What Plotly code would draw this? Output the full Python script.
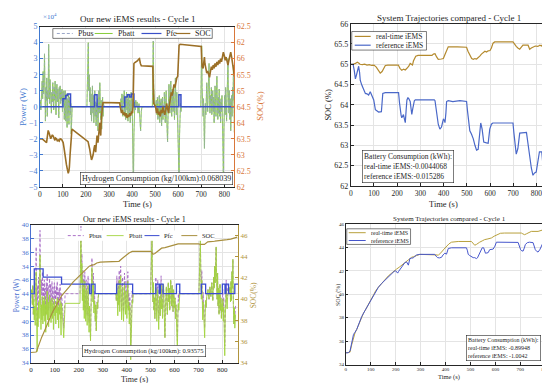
import plotly.graph_objects as go

# ---------------- Top-left: "Our new iEMS results - Cycle 1" (power in 1e4 W) ----------------
pbatt_top = [
 (0,0),(2,0.4),(4,-0.2),(6,1.0),(8,0.3),(10,1.6),(12,0.5),(14,2.2),(16,0.8),(18,1.4),(20,3.3),(22,0.6),
 (24,-0.9),(26,1.2),(28,0.4),(30,1.8),(32,-0.6),(34,1.0),(36,0.5),(38,3.9),(40,1.2),(42,0.2),(44,1.7),
 (46,0.6),(48,1.1),(50,-0.4),(52,0.9),(54,0.3),(56,1.5),(58,0.7),(60,-0.2),(62,1.2),(64,0.4),(66,1.6),
 (68,0.8),(70,-0.5),(72,1.0),(74,1.4),(76,0.3),(78,1.1),(80,0.6),(82,-0.7),(84,1.2),(86,0.5),(88,1.3),
 (90,0.2),(92,1.0),(94,0.4),(96,1.1),(98,-0.3),(100,0.9),(102,0.3),(104,1.0),(106,-0.8),(108,0.6),
 (110,1.0),(112,-0.9),(114,0.4),(116,0.8),(118,-1.3),(120,0.5),(122,-0.4),(124,0.8),(126,-1.1),(128,0.3),
 (130,0.6),(132,-0.5),(134,0.2),(136,-1.7),(138,-0.3),(140,0),
 (204,0),(206,1.2),(208,2.6),(210,4.0),(212,1.0),(214,2.0),(216,0.3),(218,1.2),(220,-0.5),(222,0.8),
 (224,-0.9),(226,0.5),(228,1.3),(230,-0.4),(232,0.7),(234,-1.0),(236,0.4),(238,1.0),(240,-0.6),(242,0.3),
 (244,-1.2),(246,0.2),(248,-0.7),(250,0.5),(252,-1.5),(254,0.3),(256,1.0),(258,-0.4),(260,1.5),(262,0.2),
 (264,-0.8),(266,0.4),(268,-1.4),(270,-0.3),(272,0.6),(274,-0.6),(276,0.2),(278,0),
 (350,0),(352,0.5),(354,-0.3),(356,0.8),(358,0.1),(360,-0.6),(362,0.7),(364,0.2),(366,1.0),(368,-0.4),
 (370,0.6),(372,-0.8),(374,0.3),(376,0.9),(378,-0.2),(380,0.5),(382,-0.9),(384,0.2),(386,0.8),(388,-0.5),
 (390,0.4),(392,-1.0),(394,0.3),(396,0.9),(398,-0.3),(400,0.5),(402,-1.2),(404,-2.5),(406,-4.8),(408,-1.8),
 (410,-0.5),(412,0.3),(414,-0.2),(416,0.4),(418,0),(422,0.3),(426,-0.4),(430,0.2),(434,-0.8),(437,-1.5),
 (440,-0.3),(443,0),
 (488,0),(490,1.5),(492,4.1),(494,1.2),(496,0.3),(498,0),(502,0),(505,0.4),(508,-0.5),(510,0.6),(512,-0.8),
 (514,0.2),(516,-0.4),(518,0.7),(520,-1.0),(522,0.3),(524,-0.6),(526,0.5),(528,-1.2),(530,-0.3),(532,0.6),
 (534,-0.8),(536,0.1),(538,-0.5),(540,0.9),(542,-0.2),(544,-1.0),(546,0.4),(548,1.0),(550,-0.6),(552,-1.5),
 (554,-2.2),(556,-0.7),(558,0.3),(560,1.4),(562,0.5),(564,-0.4),(566,0.8),(568,1.6),(570,0.2),(572,-0.6),
 (574,1.1),(576,0.4),(578,-0.3),(580,1.2),(582,0.5),(584,-0.8),(586,0.6),(588,1.8),(590,0.3),(592,-0.5),
 (594,0.9),(596,-0.2),(598,0.4),(600,-1.5),(602,-3.0),(604,-4.5),(606,-1.8),(608,-0.6),(610,0.2),(612,-0.3),
 (614,0),
 (698,0),(700,1.5),(702,3.8),(704,1.2),(706,0.3),(708,-0.6),(710,0.5),(712,-1.3),(714,-2.6),(716,-0.9),
 (718,0.2),(720,-0.5),(722,0.8),(724,1.5),(726,0.4),(728,-0.3),(730,0.9),(732,1.8),(734,2.7),(736,0.6),
 (738,-0.4),(740,0.7),(742,0.2),(744,1.2),(746,-0.5),(748,0.4),(750,1.0),(752,-0.3),(754,0.6),(756,-1.0),
 (758,0.3),(760,1.3),(762,0.5),(764,-0.6),(766,0.8),(768,1.9),(770,0.4),(772,-0.8),(774,0.6),(776,-0.4),
 (778,1.1),(780,-0.6),(782,0.3),(784,-1.0),(786,0.5),(788,-0.3),(790,0.7),(792,-1.2),(794,-2.2),(796,-4.1),
 (798,-1.5),(800,-0.3),(802,0.7),(804,-0.5),(806,1.2),(808,0.3),(810,-0.9),(812,0.6),(814,1.5),(816,3.0),
 (818,0.8),(820,-0.4),(822,1.0),(824,-0.8),(826,0.5),(828,-1.5),(830,-0.4),(832,0.7),(834,-0.6),(836,1.2),
 (838,0.4),(840,2.6),(842,0.9),(844,-1.6),(846,0.3),(848,-0.8)]

# bus power overlaps the battery power here (fuel cell almost off)
pbus_top = pbatt_top

pfc_top_t = [0, 100, 112, 120, 133, 237, 248, 368, 380, 390, 398, 408, 603, 612, 848]
pfc_top_v = [0, 0.5, 0.7, 0.8, 0, 0.75, 0, 0.6, 0.75, 0.6, 0.8, 0, 0.75, 0, 0]

soc_top = [
 (0,63.49),(8,63.5),(14,63.47),(20,63.44),(26,63.42),(29,63.38),(32,63.55),(36,63.76),(40,63.68),(43,63.62),
 (47,63.5),(50,63.55),(54,63.62),(58,63.58),(62,63.5),(65,63.45),(68,63.52),(72,63.5),(76,63.42),(80,63.46),
 (84,63.43),(88,63.5),(94,63.48),(98,63.44),(101,63.38),(105,63.2),(108,62.98),(112,62.85),(115,62.7),
 (119,62.55),(123,62.42),(126,62.5),(128,62.62),(131,63.0),(134,63.4),(137,63.65),(139,63.8),(209,63.41),
 (213,63.3),(216,63.18),(220,63.0),(224,62.84),(228,62.92),(231,63.0),(235,63.2),(238,63.3),(240,63.15),
 (242,63.08),(245,63.35),(248,63.6),(250,63.5),(252,63.38),(256,63.7),(260,64.0),(262,63.75),(264,63.6),
 (266,64.0),(268,64.3),(271,64.5),(274,64.63),(346,64.62),(350,64.45),(354,64.3),(358,64.4),(362,64.25),
 (366,64.32),(370,64.2),(374,64.3),(378,64.15),(382,64.25),(386,64.18),(390,64.3),(394,64.22),(398,64.35),
 (402,64.3),(404,64.5),(406,65.6),(408,65.85),(412,65.88),(418,65.9),(424,65.94),(428,65.98),(432,66.0),
 (436,65.85),(440,65.78),(490,65.76),(492,65.2),(494,64.6),(498,64.55),(502,64.5),(506,64.3),(510,64.45),
 (514,64.25),(518,64.35),(522,64.2),(526,64.4),(530,64.3),(534,64.5),(538,64.35),(542,64.25),(546,64.4),
 (550,64.6),(554,64.45),(558,64.3),(562,64.55),(566,64.8),(570,64.95),(574,64.85),(578,65.05),(582,65.2),
 (586,65.1),(590,65.3),(594,65.4),(598,65.45),(600,65.7),(602,66.1),(604,66.42),(608,66.45),(692,66.4),
 (700,66.38),(702,66.0),(704,65.75),(708,65.7),(712,65.9),(714,66.05),(716,65.85),(720,65.7),(724,65.55),
 (728,65.62),(732,65.5),(736,65.42),(740,65.6),(744,65.75),(748,65.65),(752,65.8),(756,65.7),(760,65.85),
 (764,65.75),(768,65.9),(772,65.8),(776,65.95),(780,65.85),(784,66.0),(788,65.9),(792,66.05),(796,66.2),
 (800,66.1),(804,65.95),(808,66.05),(812,65.9),(816,65.8),(820,65.95),(824,66.15),(828,66.2),(832,66.05),
 (836,65.8),(840,65.6),(844,65.45),(848,65.5)]

tl_left_ticks = [-5, -4, -3, -2, -1, 0, 1, 2, 3, 4, 5]
tl_right_tickvals = [62, 62.5, 63, 63.5, 64, 64.5, 65, 65.5, 66, 66.5, 67]
tl_right_ticktext = ["62", "62.5", "63", "63.5", "64", "64.5", "65", "65.5", "66", "62", "62.5"]

# ---------------- Top-right: SOC trajectories compared ----------------
soc_rt_top = [
 (0,65.0),(10,65.0),(20,65.02),(28,65.05),(34,65.03),(40,65.0),(50,64.99),(60,65.0),(70,64.98),(80,64.99),
 (90,64.97),(100,64.98),(110,64.93),(118,64.85),(127,64.78),(135,64.82),(142,64.92),(149,64.97),(160,64.98),
 (205,64.98),(212,64.9),(220,64.85),(228,64.88),(235,64.86),(242,64.9),(250,64.95),(256,65.02),(262,65.0),
 (266,64.98),(270,65.08),(275,65.16),(280,65.2),(290,65.22),(350,65.22),(356,65.25),(363,65.26),(370,65.18),
 (377,65.12),(390,65.13),(399,65.14),(406,65.24),(413,65.36),(420,65.43),(460,65.43),(499,65.42),(505,65.32),
 (514,65.2),(521,65.14),(528,65.12),(535,65.14),(542,65.13),(549,65.16),(556,65.2),(563,65.25),(570,65.28),
 (578,65.32),(585,65.3),(592,65.33),(600,65.34),(606,65.4),(613,65.52),(620,65.55),(699,65.55),(706,65.48),
 (713,65.44),(720,65.4),(728,65.37),(735,65.42),(742,65.47),(764,65.47),(771,65.37),(778,65.4),(785,65.43),
 (795,65.45),(806,65.44),(815,65.47),(822,65.45),(828,65.5),(835,65.44),(840,65.4),(848,65.38)]

soc_ref_top = [
 (0,65.0),(10,65.0),(15,64.85),(20,64.64),(24,64.72),(27,64.8),(31,64.9),(34,64.95),(38,64.8),(41,64.6),
 (48,64.48),(55,64.36),(63,64.28),(70,64.27),(77,64.24),(84,64.32),(91,64.2),(99,64.12),(106,63.88),
 (113,63.84),(120,63.82),(132,63.83),(135,64.0),(138,64.28),(149,64.3),(206,64.3),(210,64.05),(213,63.8),
 (217,63.74),(220,63.68),(224,63.72),(227,63.76),(231,63.65),(235,63.56),(239,63.9),(242,64.12),(246,64.17),
 (249,64.16),(256,64.08),(260,63.9),(263,63.76),(267,63.9),(270,64.04),(274,64.1),(278,64.12),(360,64.12),
 (363,64.1),(367,63.9),(370,63.72),(377,63.52),(384,63.4),(391,63.45),(395,63.55),(399,63.64),(403,63.62),
 (406,63.56),(410,63.8),(413,64.08),(420,64.1),(440,64.08),(470,64.1),(499,64.08),(503,63.85),(506,63.64),
 (513,63.36),(520,63.28),(528,63.16),(535,63.0),(542,62.88),(549,62.9),(553,63.2),(556,63.48),(560,63.55),
 (566,63.4),(573,63.08),(585,63.06),(592,63.05),(599,63.4),(606,63.52),(612,63.55),(699,63.55),(703,63.3),
 (706,63.08),(713,62.78),(720,62.92),(724,63.1),(728,63.3),(757,63.32),(764,63.0),(771,62.68),(778,62.44),
 (785,62.26),(792,62.32),(799,62.34),(806,62.6),(810,62.75),(813,62.84),(823,62.84),(828,62.52),(835,62.28),
 (840,62.4),(843,62.52),(848,62.58)]

# ---------------- Bottom-left: "Our new iEMS results - Cycle 1" ----------------
pbatt_bot = [
 (0,0),(3,0.3),(6,-0.8),(8,0.6),(10,-1.5),(12,-0.4),(14,-1.9),(16,-0.9),(18,-2.3),(20,-1.0),(22,1.6),
 (24,-2.0),(26,-4.2),(28,-1.2),(30,-2.4),(32,-0.6),(34,-1.8),(36,-0.3),(38,2.8),(40,-1.0),(42,-2.6),
 (44,-0.8),(46,-1.9),(48,-0.2),(50,-2.2),(52,-0.5),(54,-1.6),(56,-0.2),(58,-2.0),(60,-0.8),(62,-2.8),
 (64,-0.4),(66,-1.5),(68,0.2),(70,-1.9),(72,-0.6),(74,-2.4),(76,-0.9),(78,-0.1),(80,-1.7),(82,-0.5),
 (84,-2.1),(86,-1.0),(88,-0.3),(90,-1.8),(92,-0.7),(94,-2.6),(96,-1.1),(98,-0.4),(100,-1.6),(102,-0.9),
 (104,-2.2),(106,-0.6),(108,-1.4),(110,-0.3),(112,-1.9),(114,-1.0),(116,-2.5),(118,-0.8),(120,-1.5),
 (122,-0.5),(124,-1.8),(126,-3.0),(128,-0.7),(131,-1.2),(134,-2.2),(137,-3.2),(140,-1.0),(143,-0.7),
 (205,-0.7),(207,1.5),(209,4.5),(211,0.8),(213,2.2),(215,-0.5),(217,1.0),(219,-1.2),(221,0.4),(223,-1.8),
 (225,0.9),(227,-0.6),(229,-2.0),(231,0.3),(233,-1.0),(235,-2.3),(237,-0.4),(239,0.6),(241,-1.5),(243,-2.8),
 (245,-0.9),(247,-1.7),(249,-3.4),(251,-1.2),(253,0.2),(255,1.9),(257,0.4),(259,-0.6),(261,0.8),(263,-1.4),
 (265,-0.5),(267,-1.2),(269,-2.0),(271,-0.8),(273,-2.7),(275,-1.5),(277,-0.6),(279,-1.1),(281,-0.3),(283,0),
 (355,0),(357,-0.5),(359,0.6),(361,-0.9),(363,-1.6),(365,0.3),(367,-0.8),(369,1.0),(371,-1.3),(373,-0.2),
 (375,1.3),(377,-0.6),(379,-1.9),(381,-0.4),(383,0.5),(385,-1.1),(387,-2.0),(389,-0.5),(391,0.8),(393,-0.9),
 (395,-1.5),(397,0.2),(399,-0.7),(401,-1.8),(403,-0.3),(405,0.9),(407,-1.2),(409,-0.6),(411,-2.2),(413,-0.9),
 (415,-1.6),(417,-4.8),(419,-2.5),(421,-1.0),(423,-0.5),(425,-0.7),(427,0),
 (500,0),(502,1.2),(504,2.5),(506,4.1),(508,1.0),(510,-0.6),(512,0.8),(514,-1.2),(516,-0.3),(518,-1.8),
 (520,-0.6),(522,0.5),(524,-1.0),(526,-2.0),(528,-0.7),(530,0.3),(532,-1.4),(534,-2.6),(536,-0.9),(538,-0.2),
 (540,-1.6),(542,-0.5),(544,0.6),(546,-1.1),(548,-0.4),(550,-1.8),(552,-0.8),(554,0.7),(556,-0.6),(558,-1.9),
 (560,-3.2),(562,-1.0),(564,-0.3),(566,0.5),(568,-0.8),(570,-1.5),(572,-0.4),(574,0.8),(576,-0.6),(578,0.4),
 (580,-1.2),(582,-0.3),(584,1.0),(586,0.2),(588,-0.9),(590,0.6),(592,-0.5),(594,-1.3),(596,0.3),(598,-0.4),
 (600,-1.0),(602,-0.3),(604,-1.8),(606,-0.8),(608,-2.0),(610,-2.9),(612,-4.1),(614,-1.5),(616,-0.7),
 (618,-1.2),(620,-0.5),(622,0),
 (702,0),(704,1.0),(706,2.4),(708,3.9),(710,1.5),(712,-0.4),(714,1.0),(716,-0.8),(718,-1.9),(720,-0.6),
 (722,-1.4),(724,-2.3),(726,-3.2),(728,-1.6),(730,-0.5),(732,-1.0),(734,-0.3),(736,0),(740,0.3),(744,-0.4),
 (748,0.5),(752,-0.2),(756,0.8),(760,-0.5),(764,1.2),(766,0.4),(768,2.0),(770,0.8),(772,2.6),(774,3.4),
 (776,1.1),(778,-0.4),(780,1.5),(782,-0.9),(784,0.4),(786,-1.5),(788,-0.5),(790,0.7),(792,-1.2),(794,-0.3),
 (796,-1.8),(798,-0.7),(800,-1.3),(802,-0.4),(804,-2.0),(806,-1.0),(808,-2.8),(810,-4.5),(812,-1.8),
 (814,-0.8),(816,0.3),(818,-0.6),(820,-1.1),(822,-0.3),(824,0),(828,0),(832,0.5),(834,-0.6),(836,0.9),
 (838,-0.5),(840,1.6),(842,0.4),(844,2.5),(846,-0.8),(848,-2.2),(850,-1.0),(852,-2.5),(855,-1.5)]

pbus_bot = [
 (0,0),(3,0.3),(6,-0.8),(8,0.6),(10,-1.5),(12,-0.4),(14,-0.1),(16,0.9),(18,-0.5),(20,0.8),(22,3.4),
 (24,-0.2),(26,-2.4),(28,0.6),(30,-0.6),(32,1.2),(34,0.0),(36,1.5),(38,4.6),(40,0.8),(42,-0.8),(44,1.0),
 (46,-0.1),(48,1.6),(50,-0.4),(52,0.7),(54,-0.4),(56,1.0),(58,-0.8),(60,0.4),(62,-1.6),(64,0.8),(66,-0.3),
 (68,1.4),(70,-0.7),(72,0.6),(74,-1.2),(76,0.3),(78,1.1),(80,-0.5),(82,0.7),(84,-0.9),(86,0.2),(88,0.9),
 (90,-0.6),(92,0.5),(94,-1.4),(96,0.1),(98,0.8),(100,-0.4),(102,0.3),(104,-1.0),(106,0.6),(108,-0.2),
 (110,0.9),(112,-0.7),(114,0.2),(116,-1.3),(118,0.4),(120,-0.3),(122,0.7),(124,-0.6),(126,-1.8),(128,0.0),
 (131,-0.5),(134,-1.5),(137,-2.5),(140,-0.3),(143,0),
 (205,0),(207,2.2),(209,4.9),(211,1.5),(213,2.9),(215,0.2),(217,1.7),(219,-0.5),(221,1.1),(223,-1.1),
 (225,1.6),(227,0.1),(229,-1.3),(231,1.0),(233,-0.3),(235,-1.6),(237,0.3),(239,1.3),(241,-0.8),(243,-2.1),
 (245,-0.9),(247,-1.7),(249,-3.4),(251,-1.2),(253,0.9),(255,2.6),(257,1.1),(259,0.1),(261,1.5),(263,-0.7),
 (265,0.2),(267,-0.5),(269,-2.0),(271,-0.8),(273,-2.7),(275,-1.5),(277,-0.6),(279,-1.1),(281,-0.3),(283,0),
 (355,0),(357,-0.5),(359,1.3),(361,-0.2),(363,-0.9),(365,1.0),(367,-0.1),(369,1.7),(371,-0.6),(373,0.5),
 (375,2.0),(377,0.1),(379,-1.2),(381,0.3),(383,1.2),(385,-0.4),(387,-1.3),(389,0.2),(391,1.5),(393,-0.2),
 (395,-0.8),(397,0.9),(399,0.0),(401,-1.1),(403,0.4),(405,1.6),(407,-0.5),(409,0.1),(411,-1.5),(413,-0.2),
 (415,-0.9),(417,-4.1),(419,-1.8),(421,-0.3),(423,0.2),(425,-0.7),(427,0),
 (500,0),(502,1.2),(504,2.5),(506,4.1),(508,1.0),(510,-0.6),(512,0.8),(514,-1.2),(516,-0.3),(518,-1.8),
 (520,-0.6),(522,1.2),(524,-0.3),(526,-1.3),(528,0.0),(530,1.0),(532,-0.7),(534,-1.9),(536,-0.9),(538,-0.2),
 (540,-1.6),(542,0.2),(544,1.3),(546,-0.4),(548,0.3),(550,-1.1),(552,-0.8),(554,0.7),(556,-0.6),(558,-1.9),
 (560,-3.2),(562,-1.0),(564,-0.3),(566,0.5),(568,-0.8),(570,-1.5),(572,-0.4),(574,0.8),(576,-0.6),(578,0.4),
 (580,-1.2),(582,-0.3),(584,1.0),(586,0.2),(588,-0.9),(590,0.6),(592,-0.5),(594,-1.3),(596,0.3),(598,-0.4),
 (600,-1.0),(602,-0.3),(604,-1.8),(606,-0.8),(608,-1.3),(610,-2.2),(612,-3.4),(614,-0.8),(616,0.0),
 (618,-0.5),(620,0.2),(622,0),
 (702,0),(704,1.0),(706,2.4),(708,3.9),(710,1.5),(712,0.3),(714,1.7),(716,-0.1),(718,-1.2),(720,0.1),
 (722,-0.7),(724,-1.6),(726,-2.5),(728,-0.9),(730,-0.5),(732,-1.0),(734,-0.3),(736,0),(740,0.3),(744,-0.4),
 (748,0.5),(752,-0.2),(756,0.8),(760,-0.5),(764,1.2),(766,0.4),(768,2.0),(770,0.8),(772,2.6),(774,3.4),
 (776,1.1),(778,-0.4),(780,1.5),(782,-0.9),(784,0.4),(786,-1.5),(788,-0.5),(790,0.7),(792,-1.2),(794,-0.3),
 (796,-1.8),(798,-0.7),(800,-0.6),(802,0.3),(804,-1.3),(806,-0.3),(808,-2.1),(810,-3.8),(812,-1.8),
 (814,-0.8),(816,1.0),(818,0.1),(820,-0.4),(822,0.4),(824,0.7),(828,0),(832,0.5),(834,-0.6),(836,0.9),
 (838,-0.5),(840,1.6),(842,0.4),(844,2.5),(846,-0.8),(848,-2.2),(850,-1.0),(852,-1.8),(855,-0.8)]

pfc_bot_t = [0, 14, 51, 128, 245, 252, 268, 358, 425, 522, 536, 541, 552, 608, 622, 712, 730, 800, 811, 815, 826, 852, 866]
pfc_bot_v = [0, 1.8, 1.2, 0.7, 0, 0.7, 0, 0.7, 0, 0.7, 0, 0.7, 0, 0.7, 0, 0.7, 0, 0.7, 0, 0.7, 0, 0.7, 0.7]

soc_bot = [
 (0,34.95),(14,34.95),(22,35.0),(25,35.15),(30,35.5),(38,36.0),(45,36.4),(52,36.75),(60,37.2),(70,37.7),
 (80,38.2),(90,38.75),(100,39.15),(107,39.4),(115,39.8),(122,40.05),(128,40.3),(138,40.6),(148,40.8),
 (160,41.15),(176,41.6),(190,41.9),(203,42.2),(214,42.45),(224,42.7),(234,42.9),(244,43.1),(255,43.2),
 (265,43.25),(275,43.4),(290,43.48),(313,43.5),(355,43.52),(368,43.56),(380,43.8),(395,44.1),(410,44.35),
 (423,44.5),(500,44.5),(505,44.4),(510,44.22),(518,44.3),(530,44.5),(546,44.8),(560,44.85),(575,44.95),
 (590,45.05),(605,45.15),(615,45.2),(700,45.2),(710,45.15),(725,45.15),(739,45.4),(760,45.45),(794,45.5),
 (805,45.55),(820,45.6),(835,45.65),(850,45.8),(862,45.85)]

bl_left_ticks = [-5, -4, -3, -2, -1, 0, 1, 2, 3, 4, 5]
bl_left_ticktext = ["34", "36", "38", "40", "42", "44", "46", "34", "36", "38", "40"]
bl_right_ticks = [34, 36, 38, 40, 42, 44, 46]

# ---------------- Bottom-right: SOC trajectories compared ----------------
soc_rt_bot = [
 (0,35.0),(10,35.0),(17,35.05),(24,35.7),(30,36.2),(37,36.7),(44,37.0),(51,37.4),(60,37.8),(71,38.38),
 (80,38.7),(91,39.08),(100,39.5),(111,39.92),(120,40.3),(131,40.6),(144,40.95),(157,41.26),(170,41.55),
 (184,41.8),(194,42.0),(204,42.15),(214,42.3),(224,42.48),(234,42.65),(244,42.85),(250,42.95),(257,43.07),
 (264,43.15),(271,43.2),(278,43.28),(284,43.3),(297,43.4),(360,43.4),(366,43.35),(371,43.32),(378,43.45),
 (384,43.6),(394,43.85),(404,44.1),(414,44.3),(424,44.44),(435,44.48),(451,44.5),(504,44.5),(510,44.3),
 (517,44.18),(524,44.25),(530,44.35),(537,44.44),(547,44.55),(557,44.66),(570,44.72),(584,44.8),(595,44.95),
 (604,45.05),(611,45.16),(620,45.2),(637,45.22),(704,45.22),(710,45.15),(717,45.08),(724,45.15),(734,45.28),
 (744,45.36),(771,45.36),(780,45.42),(791,45.5),(800,45.55),(808,45.6),(817,45.7),(826,45.74),(835,45.78)]

soc_ref_bot = [
 (0,35.0),(10,35.0),(17,35.15),(24,35.8),(31,36.57),(37,36.75),(44,37.0),(54,37.55),(64,38.1),(77,38.6),
 (91,39.13),(100,39.5),(111,39.92),(120,40.25),(131,40.6),(144,40.92),(157,41.2),(170,41.5),(184,41.75),
 (194,41.95),(200,42.0),(204,41.9),(208,41.8),(212,41.95),(217,42.1),(224,42.25),(231,42.43),(237,42.7),
 (244,42.75),(248,42.6),(251,42.48),(254,42.75),(257,43.04),(264,43.08),(271,43.1),(278,43.25),(284,43.35),
 (297,43.4),(357,43.4),(362,43.25),(368,43.12),(376,43.1),(384,43.15),(390,43.35),(397,43.5),(404,43.42),
 (408,43.7),(411,43.9),(424,43.96),(484,43.96),(488,43.7),(491,43.4),(497,43.3),(504,43.2),(511,43.12),
 (517,43.12),(524,43.04),(528,43.1),(531,43.25),(537,43.5),(543,43.8),(547,43.96),(553,43.96),(557,43.75),
 (560,43.5),(566,43.52),(571,43.55),(577,43.8),(591,43.85),(598,44.1),(604,44.44),(691,44.42),(696,44.1),
 (701,43.8),(706,43.7),(711,43.68),(716,43.95),(720,44.24),(728,44.4),(737,44.44),(751,44.4),(756,44.1),
 (760,43.8),(766,43.65),(771,43.6),(778,43.8),(784,44.1),(790,44.35),(795,44.44),(800,44.4),(804,44.3),
 (810,44.05),(817,43.82),(824,43.85),(831,43.9),(835,43.95)]

x_ticks = [0, 100, 200, 300, 400, 500, 600, 700, 800]


def split(pairs):
    return [p[0] for p in pairs], [p[1] for p in pairs]


FONT = "Liberation Serif"
INK = "#262626"
GRID = "#e4e4e4"
C_L_BLUE = "#3f78d0"
C_R_ORANGE = "#d9773a"
BL_BLUE = "#4a6fd0"
BL_OLIVE = "#b0943c"

COL = dict(
    pbus_t="#9aa6c8", pbatt_t="#86cc3a", pfc_t="#3a50c8", soc_t="#9b6f26",
    rt_t="#b48a2e", ref_t="#4a68c8",
    pbus_b="#a060c0", pbatt_b="#a2d43e", pfc_b="#3a4cd0", soc_b="#a88f3e",
    rt_b="#b8a03c", ref_b="#4656cc",
)

fig = go.Figure()

# ---- top-left traces
t, v = split(pbatt_top)
fig.add_trace(go.Scatter(x=t, y=v, name="Pbatt", mode="lines", line=dict(color=COL["pbatt_t"], width=0.9),
                         xaxis="x", yaxis="y"))
t, v = split(pbus_top)
fig.add_trace(go.Scatter(x=t, y=v, name="Pbus", mode="lines",
                         line=dict(color=COL["pbus_t"], width=0.6, dash="3px,2px"), xaxis="x", yaxis="y"))
fig.add_trace(go.Scatter(x=pfc_top_t, y=pfc_top_v, name="Pfc", mode="lines",
                         line=dict(color=COL["pfc_t"], width=1.5, shape="hv"), xaxis="x", yaxis="y"))
t, v = split(soc_top)
fig.add_trace(go.Scatter(x=t, y=v, name="SOC", mode="lines", line=dict(color=COL["soc_t"], width=1.6),
                         xaxis="x", yaxis="y2"))

# ---- top-right traces
t, v = split(soc_rt_top)
fig.add_trace(go.Scatter(x=t, y=v, name="real-time iEMS", mode="lines", line=dict(color=COL["rt_t"], width=1.2),
                         xaxis="x2", yaxis="y3"))
t, v = split(soc_ref_top)
fig.add_trace(go.Scatter(x=t, y=v, name="reference iEMS", mode="lines", line=dict(color=COL["ref_t"], width=1.2),
                         xaxis="x2", yaxis="y3"))

# ---- bottom-left traces (bus drawn first, battery on top)
t, v = split(pbus_bot)
fig.add_trace(go.Scatter(x=t, y=v, name="Pbus", mode="lines",
                         line=dict(color=COL["pbus_b"], width=0.8, dash="3px,2px"), xaxis="x3", yaxis="y4"))
t, v = split(pbatt_bot)
fig.add_trace(go.Scatter(x=t, y=v, name="Pbatt", mode="lines", line=dict(color=COL["pbatt_b"], width=0.9),
                         xaxis="x3", yaxis="y4"))
fig.add_trace(go.Scatter(x=pfc_bot_t, y=pfc_bot_v, name="Pfc", mode="lines",
                         line=dict(color=COL["pfc_b"], width=1.3, shape="hv"), xaxis="x3", yaxis="y4"))
t, v = split(soc_bot)
fig.add_trace(go.Scatter(x=t, y=v, name="SOC", mode="lines", line=dict(color=COL["soc_b"], width=1.2),
                         xaxis="x3", yaxis="y5"))

# ---- bottom-right traces
t, v = split(soc_rt_bot)
fig.add_trace(go.Scatter(x=t, y=v, name="real-time iEMS", mode="lines", line=dict(color=COL["rt_b"], width=1.0),
                         xaxis="x4", yaxis="y6"))
t, v = split(soc_ref_bot)
fig.add_trace(go.Scatter(x=t, y=v, name="reference iEMS", mode="lines", line=dict(color=COL["ref_b"], width=1.0),
                         xaxis="x4", yaxis="y6"))


def xax(dom, anchor, rng, size):
    return dict(domain=dom, anchor=anchor, range=rng, tickvals=x_ticks, ticks="inside", ticklen=3,
                tickcolor=INK, showgrid=True, gridcolor=GRID, gridwidth=0.6, zeroline=False,
                showline=True, linecolor=INK, linewidth=0.7, mirror=True,
                tickfont=dict(family=FONT, size=size, color=INK))


W, H = 550.0, 383.0
fig.update_layout(
    width=550, height=383, margin=dict(l=0, r=0, t=0, b=0), showlegend=False,
    paper_bgcolor="white", plot_bgcolor="white",
    font=dict(family=FONT, color=INK),
    xaxis=xax([30 / W, 225 / W], "y", [0, 843], 7.5),
    yaxis=dict(domain=[1 - 179 / H, 1 - 15 / H], anchor="x", range=[-5, 5], tickvals=tl_left_ticks,
               ticks="inside", ticklen=3, tickcolor=C_L_BLUE, showgrid=True, gridcolor=GRID, gridwidth=0.6,
               zeroline=False, showline=True, linecolor=C_L_BLUE, linewidth=0.7,
               tickfont=dict(family=FONT, size=8, color=C_L_BLUE)),
    yaxis2=dict(overlaying="y", side="right", anchor="x", range=[62, 67], tickvals=tl_right_tickvals,
                ticktext=tl_right_ticktext, ticks="inside", ticklen=3, tickcolor=C_R_ORANGE, showgrid=False,
                zeroline=False, showline=True, linecolor=C_R_ORANGE, linewidth=0.7,
                tickfont=dict(family=FONT, size=8, color=C_R_ORANGE)),
    xaxis2=xax([342 / W, 540 / W], "y3", [0, 850], 7.5),
    yaxis3=dict(domain=[1 - 178 / H, 1 - 12 / H], anchor="x2", range=[62, 66], dtick=0.5, ticks="inside",
                ticklen=3, tickcolor=INK, showgrid=True, gridcolor=GRID, gridwidth=0.6, zeroline=False,
                showline=True, linecolor=INK, linewidth=0.7, mirror=True,
                tickfont=dict(family=FONT, size=8, color=INK)),
    xaxis3=xax([21 / W, 229 / W], "y4", [0, 866], 7),
    yaxis4=dict(domain=[1 - 359 / H, 1 - 218 / H], anchor="x3", range=[-5, 5], tickvals=bl_left_ticks,
                ticktext=bl_left_ticktext, ticks="inside", ticklen=3, tickcolor=BL_BLUE, showgrid=True,
                gridcolor=GRID, gridwidth=0.6, zeroline=False, showline=True, linecolor=BL_BLUE, linewidth=0.7,
                tickfont=dict(family=FONT, size=7, color=BL_BLUE)),
    yaxis5=dict(overlaying="y4", side="right", anchor="x3", range=[34, 47], tickvals=bl_right_ticks,
                ticks="inside", ticklen=3, tickcolor=BL_OLIVE, showgrid=False, zeroline=False, showline=True,
                linecolor=BL_OLIVE, linewidth=0.7, tickfont=dict(family=FONT, size=7, color=BL_OLIVE)),
    xaxis4=xax([337 / W, 546 / W], "y6", [0, 835], 5),
    yaxis6=dict(domain=[1 - 361 / H, 1 - 217 / H], anchor="x4", range=[34, 46], dtick=2, ticks="inside",
                ticklen=2, tickcolor=INK, showgrid=True, gridcolor=GRID, gridwidth=0.6, zeroline=False,
                showline=True, linecolor=INK, linewidth=0.6, mirror=True,
                tickfont=dict(family=FONT, size=5, color=INK)),
)


def note(x, y, text, size, color=INK, angle=0, box=False, align="center", xanchor="center"):
    d = dict(xref="paper", yref="paper", x=x / W, y=1 - y / H, text=text, showarrow=False, textangle=angle,
             font=dict(family=FONT, size=size, color=color), align=align, xanchor=xanchor, yanchor="middle")
    if box:
        d.update(bgcolor="white", bordercolor=INK, borderwidth=0.6, borderpad=1.5)
    fig.add_annotation(**d)


def legend_frame(x0, y0, x1, y1, border=True):
    fig.add_shape(type="rect", xref="paper", yref="paper", x0=x0 / W, x1=x1 / W, y0=1 - y1 / H, y1=1 - y0 / H,
                  fillcolor="white", line=dict(color=INK if border else "white", width=0.6), layer="above")


def legend_item(x0, x1, y, color, label, size, width=1.0, dash=None):
    line = dict(color=color, width=width)
    if dash:
        line["dash"] = dash
    fig.add_shape(type="line", xref="paper", yref="paper", x0=x0 / W, x1=x1 / W, y0=1 - y / H, y1=1 - y / H,
                  line=line, layer="above")
    note(x1 + 3, y, label, size, xanchor="left")


# legends (drawn like the MATLAB legends: short line samples)
legend_frame(43, 17, 203, 27)
legend_item(47, 63, 22, COL["pbus_t"], "Pbus", 8, 1.0, "3px,2px")
legend_item(85, 103, 22, COL["pbatt_t"], "Pbatt", 8, 1.0)
legend_item(132, 152, 22, COL["pfc_t"], "Pfc", 8, 1.2)
legend_item(166, 181, 22, COL["soc_t"], "SOC", 8, 1.2)

legend_frame(343, 20, 418, 39)
legend_item(346, 362, 25, COL["rt_t"], "real-time iEMS", 7.5, 1.2)
legend_item(346, 362, 34, COL["ref_t"], "reference iEMS", 7.5, 1.2)

legend_frame(55, 224, 205, 234, border=False)
legend_item(58, 74, 229, COL["pbus_b"], "Pbus", 6.5, 0.9, "3px,2px")
legend_item(97, 114, 229, COL["pbatt_b"], "Pbatt", 6.5, 0.9)
legend_item(135, 150, 229, COL["pfc_b"], "Pfc", 6.5, 1.0)
legend_item(172, 188, 229, COL["soc_b"], "SOC", 6.5, 1.0)

legend_frame(338, 222, 402, 238)
legend_item(340, 357, 226, COL["rt_b"], "real-time iEMS", 6, 1.0)
legend_item(340, 357, 234, COL["ref_b"], "reference iEMS", 6, 1.0)

# titles
note(128, 7, "Our new iEMS results - Cycle 1", 9)
note(441, 6, "System Trajectories compared - Cycle 1", 9)
note(125, 212, "Our new iEMS results - Cycle 1", 8)
note(441, 212, "System Trajectories compared - Cycle 1", 7)
# axis titles
note(13, 97, "Power (W)", 8.5, C_L_BLUE, angle=-90)
note(251, 97, "SOC(%)", 8.5, C_R_ORANGE, angle=-90)
note(40, 5, "×10<sup>4</sup>", 7, C_L_BLUE)
note(128, 197, "Time (s)", 8.5)
note(319, 95, "SOC (%)", 8.5, angle=-90)
note(435, 197, "Time (s)", 8.5)
note(6, 290, "Power (W)", 7.5, BL_BLUE, angle=-90)
note(244, 290, "SOC(%)", 7.5, BL_OLIVE, angle=-90)
note(125, 376, "Time (s)", 8)
note(329, 290, "SOC (%)", 6, angle=-90)
note(441, 374, "Time (s)", 6.5)
# text boxes
note(147, 171, "Hydrogen Consumption (kg/100km):0.068039", 8, box=True)
note(134, 347, "Hydrogen Consumption (kg/100km): 0.93575", 6.5, box=True)
note(353, 158, "Battery Consumption (kWh):<br>real-time iEMS:-0.0044068<br>reference iEMS:-0.015286", 7.5,
     box=True, align="left", xanchor="left")
note(458, 344, "Battery Consumption (kWh):<br>real-time iEMS: -0.89948<br>reference iEMS: -1.0042", 6,
     box=True, align="left", xanchor="left")

fig.write_html("out.html")
